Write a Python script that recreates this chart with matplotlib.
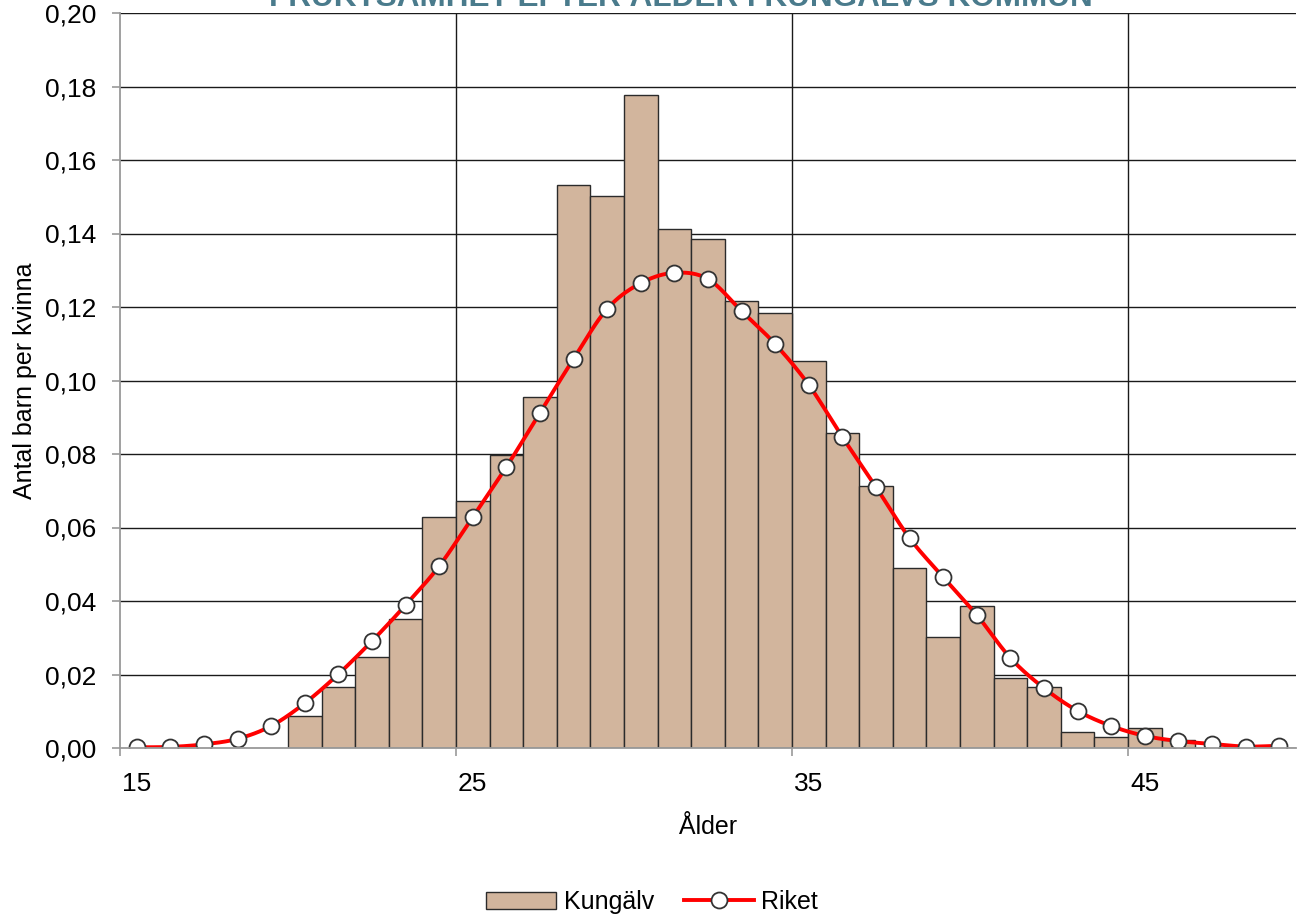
import numpy as np
import matplotlib
matplotlib.use("Agg")
import matplotlib.pyplot as plt
from matplotlib.patches import Patch
from matplotlib.lines import Line2D
from matplotlib.ticker import FuncFormatter

plt.rcParams['font.family'] = ['Liberation Sans', 'DejaVu Sans']

ages = list(range(15, 50))
kungalv_ages = list(range(20, 50))
kungalv = [0.0088, 0.0165, 0.0247, 0.0352, 0.0629, 0.0672, 0.0797, 0.0955, 0.1532, 0.1502,
           0.1777, 0.1412, 0.1385, 0.1216, 0.1184, 0.1053, 0.0857, 0.0713, 0.0490, 0.0302,
           0.0386, 0.0190, 0.0166, 0.0044, 0.0030, 0.0054, 0.0021, 0.0, 0.0, 0.0]
riket = [0.0002, 0.0003, 0.0010, 0.0025, 0.0060, 0.0122, 0.0201, 0.0291, 0.0389, 0.0495,
         0.0629, 0.0765, 0.0912, 0.1059, 0.1195, 0.1265, 0.1293, 0.1276, 0.1189, 0.1099,
         0.0988, 0.0846, 0.0710, 0.0571, 0.0465, 0.0362, 0.0245, 0.0163, 0.0101, 0.0060,
         0.0033, 0.0019, 0.0011, 0.0004, 0.0006]
x_ticks = [15, 25, 35, 45]
title = "FRUKTSAMHET EFTER ÅLDER I KUNGÄLVS KOMMUN"

bar_color = '#D2B59D'
edge_color = '#2b2b2b'

def catmull_rom(x, y, n=20):
    x = np.asarray(x, float); y = np.asarray(y, float)
    px = np.concatenate([[2*x[0]-x[1]], x, [2*x[-1]-x[-2]]])
    py = np.concatenate([[2*y[0]-y[1]], y, [2*y[-1]-y[-2]]])
    xs, ys = [], []
    t = np.linspace(0, 1, n, endpoint=False)
    for i in range(1, len(px)-2):
        p0, p1, p2, p3 = (np.array([px[j], py[j]]) for j in range(i-1, i+3))
        for tt in t:
            pt = 0.5*((2*p1) + (-p0+p2)*tt + (2*p0-5*p1+4*p2-p3)*tt**2 + (-p0+3*p1-3*p2+p3)*tt**3)
            xs.append(pt[0]); ys.append(pt[1])
    xs.append(x[-1]); ys.append(y[-1])
    return np.array(xs), np.array(ys)

fig = plt.figure(figsize=(12.97, 9.18), dpi=100)
ax = fig.add_axes([120/1297, (918-748)/918, (1296-120)/1297, (748-13)/918])

ax.set_xlim(14.5, 49.5)
ax.set_ylim(0, 0.20)

# grid
for yv in np.arange(0.02, 0.201, 0.02):
    ax.axhline(yv, color='#1a1a1a', lw=1.0, zorder=0)
for xv in [24.5, 34.5, 44.5]:
    ax.axvline(xv, color='#1a1a1a', lw=1.0, zorder=0)

ax.bar(kungalv_ages, kungalv, width=1.0, color=bar_color, edgecolor=edge_color, linewidth=1.0, zorder=2)

sx, sy = catmull_rom(ages, riket)
ax.plot(sx, sy, color='#FF0000', lw=2.8, zorder=3)
ax.plot(ages, riket, linestyle='none', marker='o', markersize=11.5, markerfacecolor='white',
        markeredgecolor='#333333', markeredgewidth=1.3, zorder=4)

ax.set_yticks(np.arange(0, 0.201, 0.02))
ax.yaxis.set_major_formatter(FuncFormatter(lambda v, p: f"{v:.2f}".replace('.', ',')))
ax.set_xticks([14.5, 24.5, 34.5, 44.5])
ax.set_xticklabels([])
ax.set_xticks(x_ticks, minor=True)
ax.set_xticklabels([str(v) for v in x_ticks], minor=True)
ax.tick_params(axis='x', which='minor', length=0, pad=17, labelsize=19)
ax.tick_params(axis='x', which='major', length=6, color='#999999', width=1.2, direction='out')
ax.tick_params(axis='y', length=6, color='#999999', width=1.2, labelsize=19, pad=11)

for s in ['top', 'right']:
    ax.spines[s].set_visible(False)
ax.spines['left'].set_color('#999999')
ax.spines['left'].set_linewidth(1.3)
ax.spines['bottom'].set_color('#999999')
ax.spines['bottom'].set_linewidth(1.3)
ax.spines['left'].set_zorder(5)
ax.spines['bottom'].set_zorder(5)

ax.set_ylabel('Antal barn per kvinna', fontsize=18, labelpad=6)
ax.set_xlabel('Ålder', fontsize=18, labelpad=14)

fig.text(0.525, 1 - 6/918, title, ha='center', va='baseline', fontsize=22.7, fontweight='bold',
         color='#4A7B8C')

handles = [Patch(facecolor=bar_color, edgecolor=edge_color, linewidth=1.0),
           Line2D([0], [0], color='#FF0000', lw=2.8, marker='o', markersize=11.5,
                  markerfacecolor='white', markeredgecolor='#333333', markeredgewidth=1.3)]
fig.legend(handles, ['Kungälv', 'Riket'], loc='center', bbox_to_anchor=(652/1297, 1 - 902/918),
           ncol=2, frameon=False, fontsize=18, handlelength=2.8, handleheight=0.7,
           columnspacing=1.2, handletextpad=0.3)

fig.savefig('out.png', dpi=100)
